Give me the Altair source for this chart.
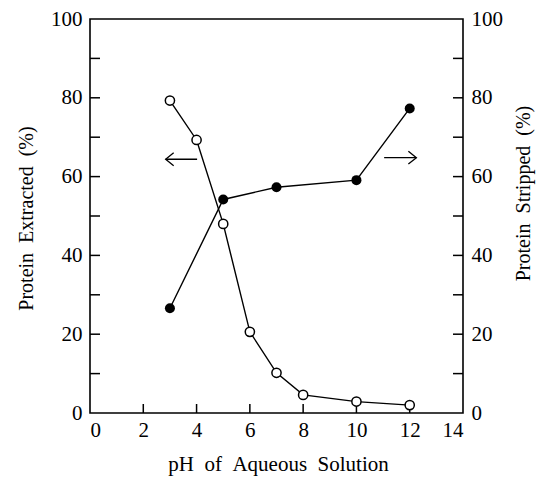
import altair as alt
import pandas as pd

# Protein extracted (open circles, left axis)
ph_extracted = [3, 4, 5, 6, 7, 8, 10, 12]
protein_extracted = [79.3, 69.3, 48.0, 20.6, 10.2, 4.6, 2.9, 2.0]

# Protein stripped (filled circles, right axis)
ph_stripped = [3, 5, 7, 10, 12]
protein_stripped = [26.6, 54.2, 57.3, 59.1, 77.3]

# axis ticks
x_ticks = [0, 2, 4, 6, 8, 10, 12, 14]
x_inner_ticks = [2, 4, 6, 8, 10, 12]
y_labels = [0, 20, 40, 60, 80, 100]
y_inner_ticks = [10, 20, 30, 40, 50, 60, 70, 80, 90]

# arrows indicating which axis belongs to which curve
arrow_tail = [4.02, 11.04]
arrow_tip = [2.84, 12.25]
arrow_y = [64.4, 64.8]
arrow_dir = ["left", "right"]

FONT = "Liberation Serif"
SP = "\u2002"  # wide word spacing as in the original typesetting
W, H = 373, 394

df_ext = pd.DataFrame({"ph": ph_extracted, "v": protein_extracted})
df_str = pd.DataFrame({"ph": ph_stripped, "v": protein_stripped})
df_yt = pd.DataFrame({"v": y_inner_ticks})
df_xt = pd.DataFrame({"x": x_inner_ticks})
df_arrow = pd.DataFrame({"tail": arrow_tail, "tip": arrow_tip, "y": arrow_y, "dir": arrow_dir})

xscale = alt.Scale(domain=[0, 14], nice=False, zero=False)
yscale = alt.Scale(domain=[0, 100], nice=False, zero=False)

x_axis = alt.Axis(
    values=x_ticks, tickSize=0, domain=False, grid=False,
    labelFont=FONT, labelFontSize=21, labelColor="black", labelPadding=6,
    title=SP.join(["pH", "of", "Aqueous", "Solution"]), titleFont=FONT, titleFontSize=21,
    titleFontWeight="normal", titleColor="black", titleY=51, titleBaseline="middle",
    titleX=188,
)
x_enc = alt.X("ph:Q", scale=xscale, axis=x_axis)

left_axis = alt.Axis(
    values=y_labels, tickSize=0, domain=False, grid=False,
    labelFont=FONT, labelFontSize=21, labelColor="black", labelPadding=8,
    title=SP.join(["Protein", "Extracted", "(%)"]), titleFont=FONT, titleFontSize=20,
    titleFontWeight="normal", titleColor="black",
    titleX=-64, titleY=199, titleAngle=270, titleBaseline="middle", titleAlign="center",
)
right_axis = alt.Axis(
    orient="right", values=y_labels, tickSize=0, domain=False, grid=False,
    labelFont=FONT, labelFontSize=21, labelColor="black", labelPadding=8,
    title=SP.join(["Protein", "Stripped", "(%)"]), titleFont=FONT, titleFontSize=20,
    titleFontWeight="normal", titleColor="black",
    titleX=60, titleY=174, titleAngle=270, titleBaseline="middle", titleAlign="center",
)

# Left-axis layer: extracted curve
ext_line = alt.Chart(df_ext).mark_line(color="black", strokeWidth=1.4).encode(
    x=x_enc, y=alt.Y("v:Q", scale=yscale, axis=left_axis)
)
ext_pts = alt.Chart(df_ext).mark_point(
    shape="circle", filled=True, fill="white", stroke="black", strokeWidth=1.5,
    size=85, opacity=1
).encode(x=alt.X("ph:Q", scale=xscale), y=alt.Y("v:Q", scale=yscale))

# inward ticks
left_ticks = alt.Chart(df_yt).mark_rule(color="black", strokeWidth=1.5).encode(
    y=alt.Y("v:Q", scale=yscale), x=alt.value(0), x2=alt.value(10)
)
right_ticks = alt.Chart(df_yt).mark_rule(color="black", strokeWidth=1.5).encode(
    y=alt.Y("v:Q", scale=yscale), x=alt.value(W - 10), x2=alt.value(W)
)
bottom_ticks = alt.Chart(df_xt).mark_rule(color="black", strokeWidth=1.5).encode(
    x=alt.X("x:Q", scale=xscale), y=alt.value(H), y2=alt.value(H - 9)
)

# arrows
arrow_shaft = alt.Chart(df_arrow).mark_rule(color="black", strokeWidth=1.3).encode(
    x=alt.X("tail:Q", scale=xscale), x2="tip:Q", y=alt.Y("y:Q", scale=yscale)
)
head_left = alt.Chart(df_arrow).transform_filter(alt.datum.dir == "left").mark_point(
    shape="M1,-0.8L0,0L1,0.8", filled=False, stroke="black", strokeWidth=1.3,
    size=256, opacity=1
).encode(x=alt.X("tip:Q", scale=xscale), y=alt.Y("y:Q", scale=yscale))
head_right = alt.Chart(df_arrow).transform_filter(alt.datum.dir == "right").mark_point(
    shape="M-1,-0.8L0,0L-1,0.8", filled=False, stroke="black", strokeWidth=1.3,
    size=256, opacity=1
).encode(x=alt.X("tip:Q", scale=xscale), y=alt.Y("y:Q", scale=yscale))

left_layer = alt.layer(
    left_ticks, right_ticks, bottom_ticks, arrow_shaft, head_left, head_right,
    ext_line, ext_pts
)

# Right-axis layer: stripped curve
str_line = alt.Chart(df_str).mark_line(color="black", strokeWidth=1.4).encode(
    x=alt.X("ph:Q", scale=xscale), y=alt.Y("v:Q", scale=yscale, axis=right_axis)
)
str_pts = alt.Chart(df_str).mark_point(
    shape="circle", filled=True, color="black", size=100, opacity=1
).encode(x=alt.X("ph:Q", scale=xscale), y=alt.Y("v:Q", scale=yscale))
right_layer = alt.layer(str_line, str_pts)

chart = alt.layer(left_layer, right_layer).resolve_scale(y="independent").properties(
    width=W, height=H,
    autosize=alt.AutoSizeParams(type="none"),
    padding={"left": 90, "top": 19, "right": 85, "bottom": 65},
    background="white",
).configure_view(stroke="black", strokeWidth=1.6)

chart.save("out.html", embed_options={"renderer": "svg", "actions": False})
